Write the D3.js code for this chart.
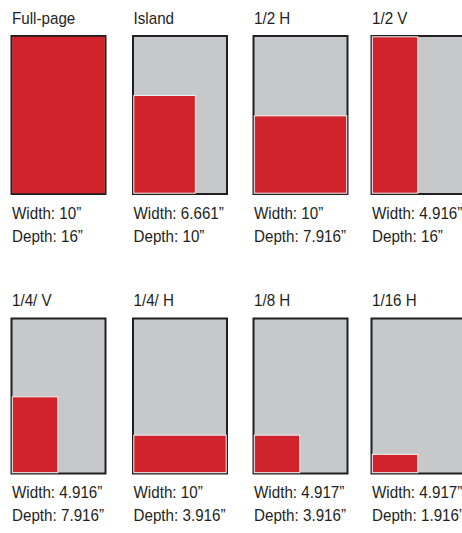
<!DOCTYPE html>
<html>
<head>
<meta charset="utf-8">
<script src="https://cdn.jsdelivr.net/npm/d3@7"></script>
<style>
  body { margin: 0; background: #fff; }
  text { font-family: "Liberation Sans", Arial, sans-serif; font-size: 16px; fill: #231f20; }
</style>
</head>
<body>
<script>
//ad size names, width and depth in inches
var sizes = ["Full-page", "Island", "1/2 H", "1/2 V", "1/4/ V", "1/4/ H", "1/8 H", "1/16 H"];
var widths = [10, 6.661, 10, 4.916, 4.916, 10, 4.917, 4.917];
var depths = [16, 10, 7.916, 16, 7.916, 3.916, 3.916, 1.916];

//full page in inches
var pageW = 10, pageD = 16;

var width = 462, height = 533;

var svg = d3.select("body")
    .append("svg")
    .attr("width", width)
    .attr("height", height);

//grid layout
var colX = [10.5, 132, 252.5, 370.5];
var rowTop = [35, 317.5],
    frameH = [160, 157],
    frameW = 96;

var data = sizes.map(function(s, i){
    return { name: s, w: widths[i], d: depths[i], col: i % 4, row: Math.floor(i / 4) };
});

var panels = svg.selectAll(".panel")
    .data(data)
    .enter()
    .append("g")
    .attr("class", "panel")
    .attr("transform", function(d){
        return "translate(" + colX[d.col] + "," + rowTop[d.row] + ")";
    });

panels.each(function(d){
    var g = d3.select(this);
    var h = frameH[d.row];
    var pad = 1.8;
    var innerW = frameW - 2 * pad, innerH = h - 2 * pad;

    //scales from inches to pixels inside the frame
    var x = d3.scaleLinear().domain([0, pageW]).range([0, innerW]);
    var y = d3.scaleLinear().domain([0, pageD]).range([innerH, 0]);

    //page frame
    g.append("rect")
        .attr("x", 1)
        .attr("y", 1)
        .attr("width", frameW - 2)
        .attr("height", h - 2)
        .attr("fill", "#c7c8ca")
        .attr("stroke", "#231f20")
        .attr("stroke-width", 2);

    //ad area
    g.append("rect")
        .attr("x", pad + x(0))
        .attr("y", pad + y(d.d))
        .attr("width", x(d.w) - x(0))
        .attr("height", y(0) - y(d.d))
        .attr("fill", "#d1232b")
        .attr("stroke", d.w == pageW && d.d == pageD ? "none" : "#f4f4f4")
        .attr("stroke-width", 1);

    //labels, slightly condensed
    var labels = [
        { t: d.name, y: -11.5 },
        { t: "Width: " + d.w + "\u201D", y: h + 23.5 },
        { t: "Depth: " + d.d + "\u201D", y: h + 46.5 }
    ];
    labels.forEach(function(l){
        g.append("text")
            .attr("transform", "translate(1.5," + l.y + ") scale(0.95,1)")
            .text(l.t);
    });
});
</script>
</body>
</html>
